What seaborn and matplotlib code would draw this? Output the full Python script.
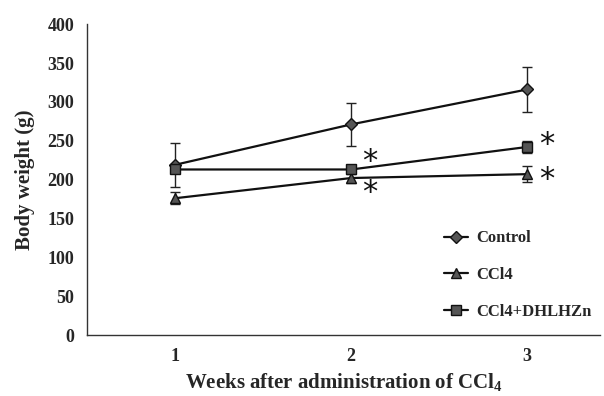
import matplotlib
matplotlib.use("Agg")
import matplotlib.pyplot as plt
import seaborn as sns
import pandas as pd

weeks = [1, 2, 3]
groups = ["Control", "CCl4", "CCl4+DHLHZn"]
control = [219, 271, 316]
control_sd = [28, 28, 29]
ccl4 = [176, 202, 207]
ccl4_sd = [8, 7, 10]
dhlhzn = [213, 213, 242]
dhlhzn_sd = [5, 6, 8]
y_ticks = [0, 50, 100, 150, 200, 250, 300, 350, 400]

sns.set_theme(style="white")
plt.rcParams["font.family"] = ["Liberation Serif", "DejaVu Serif"]
plt.rcParams["mathtext.fontset"] = "custom"
plt.rcParams["mathtext.rm"] = "Liberation Serif"
plt.rcParams["mathtext.bf"] = "Liberation Serif:bold"

df = pd.DataFrame({
    "week": weeks * 3,
    "weight": control + ccl4 + dhlhzn,
    "sd": control_sd + ccl4_sd + dhlhzn_sd,
    "group": [g for g in groups for _ in weeks],
})

fig = plt.figure(figsize=(6.04, 3.96), dpi=100)
ax = fig.add_axes([0.144, 0.154, 0.85, 0.785])

markers = {"Control": "D", "CCl4": "^", "CCl4+DHLHZn": "s"}

for g in groups:
    sub = df[df["group"] == g]
    ax.errorbar(sub["week"], sub["weight"], yerr=sub["sd"], fmt="none",
                ecolor="#222222", elinewidth=1.0, capsize=3.5, capthick=1.0, zorder=2)

sns.lineplot(data=df, x="week", y="weight", hue="group", style="group",
             markers=markers, dashes=False, palette=["#111111"] * 3,
             linewidth=1.6, markersize=6.5, markerfacecolor="#555555",
             markeredgecolor="#111111", markeredgewidth=1.0, ax=ax, zorder=3)

# significance markers next to treated groups
for wk, val, dy in [(2, dhlhzn[1], 10), (2, ccl4[1], -18), (3, dhlhzn[2], 3), (3, ccl4[2], -7)]:
    ax.text(wk + 0.065, val + dy, "*", fontsize=22, ha="left", va="center",
            color="#111111", family="DejaVu Sans")

ax.set_xlim(0.5, 3.415)
ax.set_ylim(0, 400)
ax.set_xticks(weeks)
ax.set_yticks(y_ticks)
ax.tick_params(axis="both", length=0, labelsize=13, pad=9)
for lab in ax.get_xticklabels() + ax.get_yticklabels():
    lab.set_fontweight("bold")

ax.set_xlabel("Weeks after administration of CCl$_\\mathbf{4}$", fontsize=15,
              fontweight="bold", labelpad=5)
ax.set_ylabel("Body weight (g)", fontsize=15, fontweight="bold", labelpad=9)

for side in ["top", "right"]:
    ax.spines[side].set_visible(False)
for side in ["left", "bottom"]:
    ax.spines[side].set_color("#333333")
    ax.spines[side].set_linewidth(1.0)

leg = ax.legend(loc="lower right", bbox_to_anchor=(1.012, 0.0), frameon=False,
                fontsize=12, handlelength=1.4, labelspacing=1.25, title=None,
                handletextpad=0.5)
for t in leg.get_texts():
    t.set_fontweight("bold")

fig.savefig("out.png", dpi=100)
